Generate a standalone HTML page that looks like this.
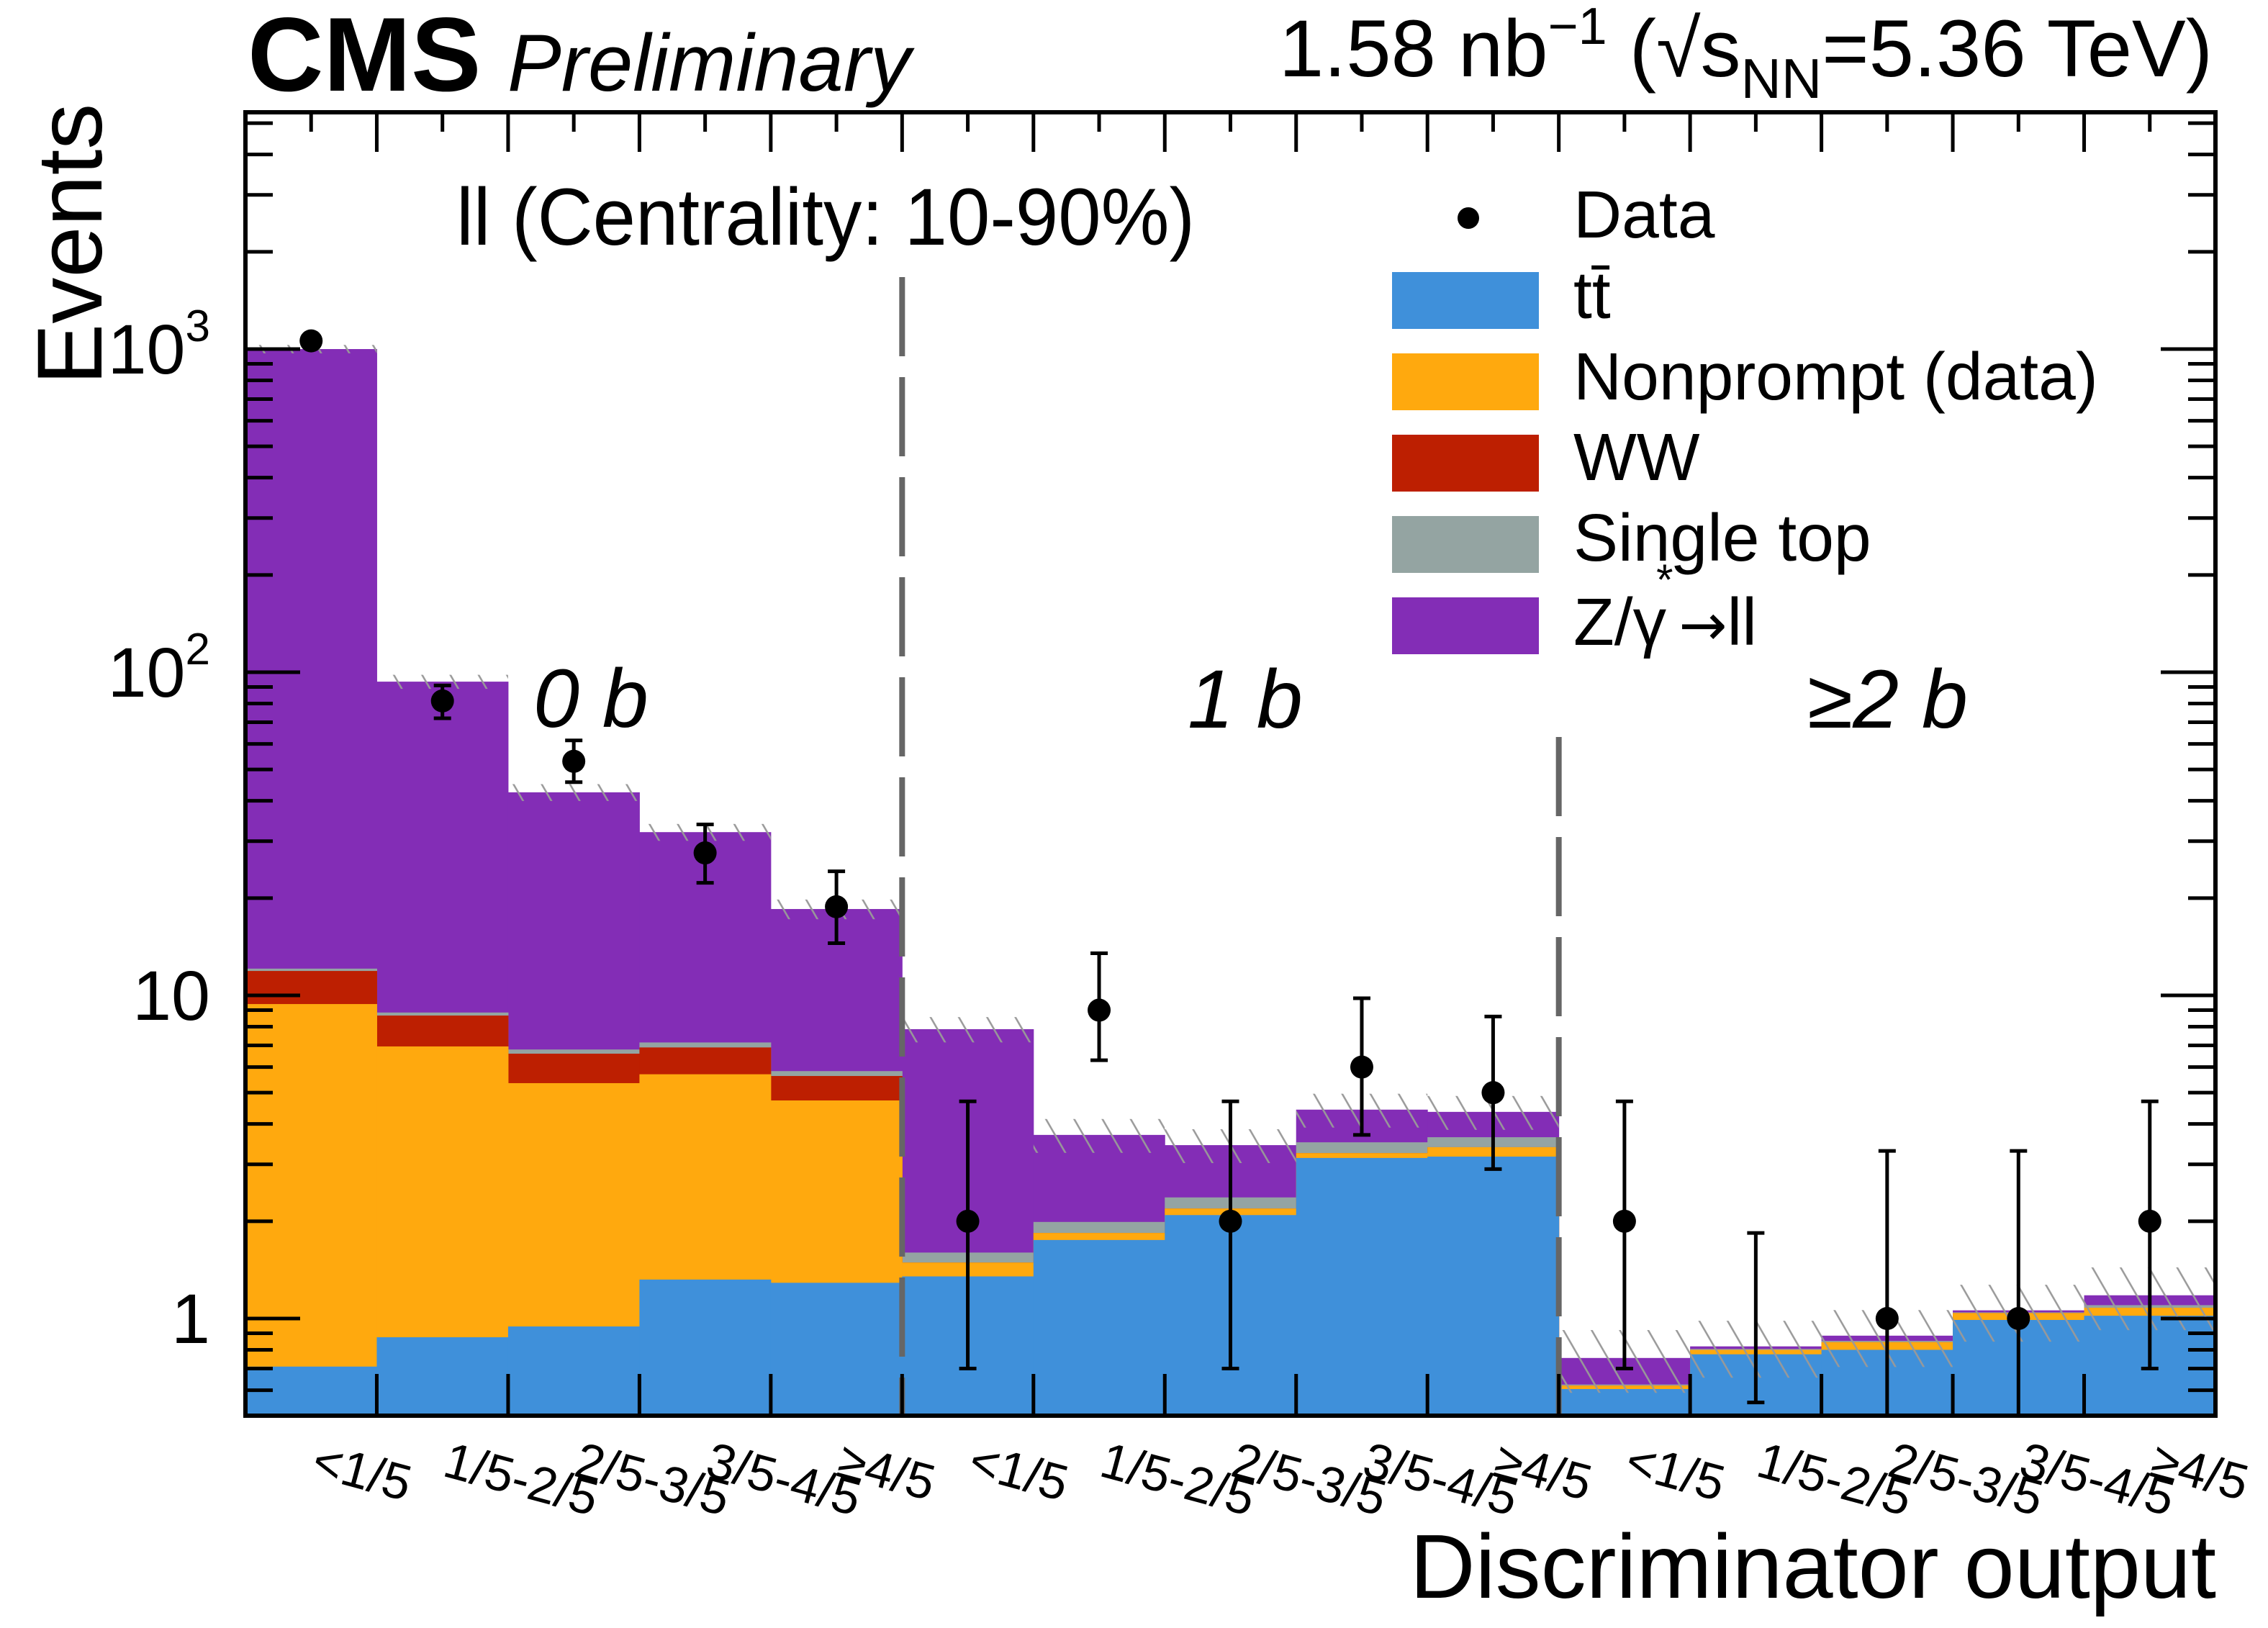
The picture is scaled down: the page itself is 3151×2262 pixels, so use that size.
<!DOCTYPE html>
<html><head><meta charset="utf-8"><style>
html,body{margin:0;padding:0;background:#fff}
svg{display:block}
text{font-family:"Liberation Sans",sans-serif;fill:#000}
</style></head><body>
<svg id="chart" width="3151" height="2262" viewBox="0 0 3151 2262" xmlns="http://www.w3.org/2000/svg">
<defs>
<pattern id="hatch" patternUnits="userSpaceOnUse" width="34" height="34" patternTransform="rotate(-30)">
<line x1="5" y1="0" x2="5" y2="34" stroke="#999" stroke-width="2.5"/>
</pattern>
<clipPath id="plotclip"><rect x="341" y="156" width="2737" height="1811"/></clipPath>
</defs>
<g id="stack" clip-path="url(#plotclip)"></g>
<g id="hatchg" clip-path="url(#plotclip)"></g>
<g id="seps"></g>
<g id="datag"></g>
<g id="axes"></g>
<g id="labels">
<text x="344" y="126" font-size="146" font-weight="bold">CMS</text>
<text x="705" y="126" font-size="112" font-style="italic">Preliminary</text>
<text x="3074" y="106" font-size="112" text-anchor="end">1.58 nb<tspan dy="-45" font-size="72">−1</tspan><tspan dy="45"> (</tspan><tspan font-size="112">√</tspan>s<tspan dy="30" font-size="78">NN</tspan><tspan dy="-30">=5.36 TeV)</tspan></text>
<text transform="translate(141,535) rotate(-90)" font-size="128">Events</text>
<text x="3079" y="2220" font-size="126" text-anchor="end">Discriminator output</text>
<text x="634" y="340" font-size="112" textLength="1026" lengthAdjust="spacingAndGlyphs">ll (Centrality: 10-90%)</text>
<text x="741" y="1010" font-size="115" font-style="italic">0 b</text>
<text x="1650" y="1011" font-size="115" font-style="italic">1 b</text>
<text x="2511" y="1011" font-size="115" font-style="italic">≥2 b</text>
</g>
<g id="legend">
<circle cx="2040" cy="303" r="15" fill="#000"/>
<text x="2186" y="330" font-size="93">Data</text>
<rect x="1934" y="378" width="204" height="79" fill="#3f90da"/>
<text x="2186" y="442" font-size="93">tt̄</text>
<rect x="1934" y="491" width="204" height="79" fill="#ffa90e"/>
<text x="2186" y="555" font-size="93">Nonprompt (data)</text>
<rect x="1934" y="604" width="204" height="79" fill="#bd1f01"/>
<text x="2186" y="667" font-size="93">WW</text>
<rect x="1934" y="717" width="204" height="79" fill="#94a4a2"/>
<text x="2186" y="779" font-size="93">Single top</text>
<rect x="1934" y="830" width="204" height="79" fill="#832db6"/>
<text x="2186" y="896" font-size="93">Z/γ<tspan dx="-14" dy="-70" font-size="60">*</tspan><tspan dx="8" dy="70" font-family="DejaVu Sans, sans-serif" font-size="80">→</tspan><tspan>ll</tspan></text>
</g>
</svg>
<script>
const categories = ["<1/5","1/5-2/5","2/5-3/5","3/5-4/5","≥4/5","<1/5","1/5-2/5","2/5-3/5","3/5-4/5","≥4/5","<1/5","1/5-2/5","2/5-3/5","3/5-4/5","≥4/5"];
// cumulative stack tops
const ttbar      = [0.71,0.875,0.945,1.32,1.29,1.35,1.75,2.09,3.14,3.17,0.605,0.775,0.80,0.99,1.02];
const nonprompt  = [9.4,6.95,5.35,5.7,4.73,1.49,1.84,2.19,3.25,3.39,0.62,0.80,0.845,1.04,1.08];
const ww         = [11.9,8.66,6.6,6.9,5.63,1.49,1.84,2.19,3.25,3.39,0.62,0.80,0.845,1.04,1.08];
const singletop  = [12.1,8.85,6.8,7.15,5.83,1.6,1.99,2.37,3.51,3.64,0.625,0.805,0.853,1.045,1.10];
const dy         = [1000,93.5,42.5,32,18.5,7.86,3.7,3.44,4.43,4.36,0.755,0.82,0.885,1.06,1.18];
const uncFrac    = [0.03,0.05,0.06,0.06,0.07,0.09,0.12,0.12,0.12,0.12,0.22,0.2,0.2,0.2,0.22];
const dataVals   = [1060,81.5,53,27.6,18.8,2,9,2,6,5,2,0,1,1,2];
const dataHigh   = [1095,91,61.5,33.8,24.2,4.7,13.5,4.7,9.8,8.6,4.7,1.84,3.3,3.3,4.7];
const dataLow    = [1027,72,45.7,22.3,14.5,0.7,6.3,0.7,3.7,2.9,0.7,0.55,0.45,0.45,0.7];
const yTickVals  = [1,10,100,1000];
const yTickLabels= ["1","10","10|2","10|3"];
const separators = [5,10];

const NS="http://www.w3.org/2000/svg";
const X0=341, X1=3078, Y0=156, Y1=1967;
const binW=(X1-X0)/categories.length;
function xEdge(i){return X0+binW*i;}
function y(v){return 1832-449*Math.log10(Math.max(v,1e-3));}
function mk(tag,attrs,parent){const e=document.createElementNS(NS,tag);for(const k in attrs)e.setAttribute(k,attrs[k]);parent.appendChild(e);return e;}

const stack=document.getElementById('stack');
const layers=[[dy,'#832db6','dy'],[singletop,'#94a4a2','singletop'],[ww,'#bd1f01','ww'],[nonprompt,'#ffa90e','nonprompt'],[ttbar,'#3f90da','ttbar']];
layers.forEach(([arr,col,nm])=>{
  arr.forEach((v,i)=>{
    const top=y(v);
    const r=mk('rect',{x:xEdge(i),y:top,width:binW+0.5,height:Math.max(0,Y1-top),fill:col},stack);
    
    
  });
});
const hg=document.getElementById('hatchg');
dy.forEach((v,i)=>{
  const t=y(v*(1+uncFrac[i])), b=y(v*(1-uncFrac[i]));
  const r=mk('rect',{x:xEdge(i),y:t,width:binW,height:b-t,fill:'url(#hatch)'},hg);
  
  
});
const sg=document.getElementById('seps');
separators.forEach((k,j)=>{
  const l=mk('line',{x1:xEdge(k),x2:xEdge(k),y1:j==0?385:1024,y2:Y1,stroke:'#666','stroke-width':8,'stroke-dasharray':'110 29'},sg);
  
  
});
const dg=document.getElementById('datag');
dataVals.forEach((v,i)=>{
  const cx=xEdge(i)+binW/2;
  const g=mk('g',{},dg);
  
  
  const yt=y(dataHigh[i]), yb=Math.min(Y1,y(dataLow[i]));
  mk('line',{x1:cx,x2:cx,y1:yt,y2:yb,stroke:'#000','stroke-width':5},g);
  mk('line',{x1:cx-12,x2:cx+12,y1:yt,y2:yt,stroke:'#000','stroke-width':5},g);
  if(yb<Y1-1) mk('line',{x1:cx-12,x2:cx+12,y1:yb,y2:yb,stroke:'#000','stroke-width':5},g);
  if(v>0) mk('circle',{cx:cx,cy:y(v),r:16,fill:'#000'},g);
});
const ax=document.getElementById('axes');
mk('rect',{x:X0,y:Y0,width:X1-X0,height:Y1-Y0,fill:'none',stroke:'#000','stroke-width':6},ax);
for(let i=0;i<=categories.length;i++){
  const x=xEdge(i);
  mk('line',{x1:x,x2:x,y1:Y1,y2:Y1-58,stroke:'#000','stroke-width':5},ax);
  mk('line',{x1:x,x2:x,y1:Y0,y2:Y0+55,stroke:'#000','stroke-width':5},ax);
  if(i<categories.length) mk('line',{x1:x+binW/2,x2:x+binW/2,y1:Y0,y2:Y0+27,stroke:'#000','stroke-width':5},ax);
}
for(let d=-1;d<=3;d++){
  for(let m=1;m<=9;m++){
    const v=m*Math.pow(10,d);
    const yy=y(v);
    if(yy<Y0||yy>Y1) continue;
    const L=m==1?76:38;
    mk('line',{x1:X0,x2:X0+L,y1:yy,y2:yy,stroke:'#000','stroke-width':5},ax);
    mk('line',{x1:X1,x2:X1-L,y1:yy,y2:yy,stroke:'#000','stroke-width':5},ax);
  }
}
yTickVals.forEach((v,i)=>{
  const parts=yTickLabels[i].split('|');
  const t=mk('text',{x:292,y:y(v)+34,'font-size':97,'text-anchor':'end'},ax);
  
  
  t.appendChild(document.createTextNode(parts[0]));
  if(parts[1]){const s=mk('tspan',{dy:-45,'font-size':62},t);s.textContent=parts[1];}
});
categories.forEach((c,i)=>{
  const cx=xEdge(i)+binW/2;
  const t=mk('text',{transform:'translate('+(cx-2)+',2050) rotate(15)','font-size':70},ax);
  
  
  t.textContent=c;
});
</script>
</body></html>
